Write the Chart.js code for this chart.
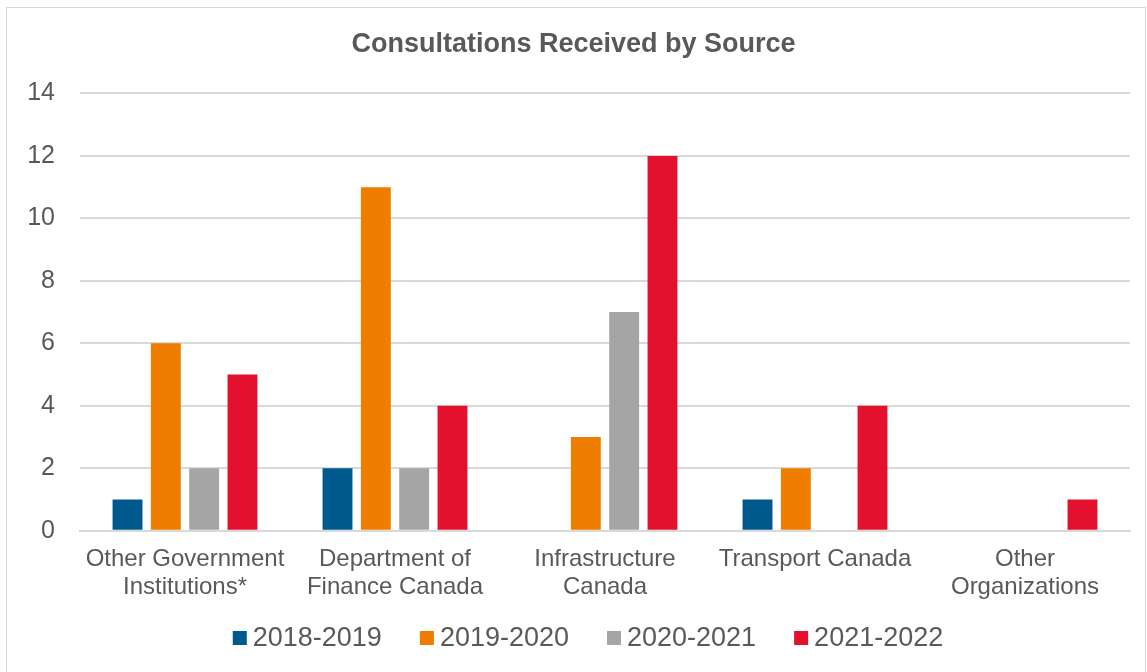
<!DOCTYPE html>
<html>
<head>
<meta charset="utf-8">
<script src="https://cdn.jsdelivr.net/npm/chart.js@4"></script>
<style>
  body { margin: 0; background: #fff; }
  .frame {
    position: absolute; left: 6px; top: 7px;
    width: 1140px; height: 670px;
    border: 1px solid #d9d9d9; box-sizing: border-box;
  }
  canvas { display: block; }
</style>
</head>
<body>
<div class="frame"><canvas id="chart" width="1138" height="668"></canvas></div>
<script>
// data
const categories = [
  ['Other Government', 'Institutions*'],
  ['Department of', 'Finance Canada'],
  ['Infrastructure', 'Canada'],
  ['Transport Canada'],
  ['Other', 'Organizations']
];
const seriesNames = ['2018-2019', '2019-2020', '2020-2021', '2021-2022'];
const values2018 = [1, 2, 0, 1, 0];
const values2019 = [6, 11, 3, 2, 0];
const values2020 = [2, 2, 7, 0, 0];
const values2021 = [5, 4, 12, 4, 1];
const yTicks = [0, 2, 4, 6, 8, 10, 12, 14];

const colors = ['#00598c', '#ef7d00', '#a5a5a5', '#e4112e'];
const allValues = [values2018, values2019, values2020, values2021];
const textColor = '#595959';
const fontFamily = '"Liberation Sans", Arial, sans-serif';

// legend drawn by hand so the box/text gap matches the original
const bottomLegend = {
  id: 'bottomLegend',
  afterDraw: function(chart) {
    const c = chart.ctx;
    const box = 14, gap = 6, spacing = 38, y = 630;
    c.save();
    c.font = '27px ' + fontFamily;
    c.textBaseline = 'middle';
    const items = chart.data.datasets.map(function(ds) {
      return { text: ds.label, color: ds.backgroundColor, w: box + gap + c.measureText(ds.label).width };
    });
    const total = items.reduce(function(s, it) { return s + it.w; }, 0) + spacing * (items.length - 1);
    let x = 581 - total / 2;
    items.forEach(function(it) {
      c.fillStyle = it.color;
      c.fillRect(x, y - box / 2, box, box);
      c.fillStyle = textColor;
      c.fillText(it.text, x + box + gap, y + 1);
      x += it.w + spacing;
    });
    c.restore();
  }
};

const ctx = document.getElementById('chart').getContext('2d');
new Chart(ctx, {
  type: 'bar',
  data: {
    labels: categories,
    datasets: seriesNames.map(function(name, i) {
      return {
        label: name,
        data: allValues[i],
        backgroundColor: colors[i],
        categoryPercentage: 0.73,
        barPercentage: 0.78
      };
    })
  },
  options: {
    responsive: false,
    animation: false,
    layout: { padding: { left: 10, right: 15, top: 0, bottom: 68 } },
    plugins: {
      title: {
        display: true,
        text: 'Consultations Received by Source',
        color: textColor,
        font: { family: fontFamily, size: 27, weight: 'bold' },
        padding: { top: 20, bottom: 33 }
      },
      legend: { display: false },
      tooltip: { enabled: false }
    },
    scales: {
      x: {
        grid: { display: false },
        border: { color: '#d9d9d9', width: 2 },
        ticks: {
          color: textColor,
          font: { family: fontFamily, size: 24, lineHeight: 1.15 },
          padding: 7,
          maxRotation: 0,
          autoSkip: false
        }
      },
      y: {
        min: 0,
        max: 14,
        afterBuildTicks: function(scale) {
          scale.ticks = yTicks.map(function(v) { return { value: v }; });
        },
        afterFit: function(scale) { scale.width = 63; },
        grid: { color: '#d9d9d9', lineWidth: 2, drawTicks: false },
        border: { display: false },
        ticks: {
          color: textColor,
          font: { family: fontFamily, size: 25 },
          padding: 25
        }
      }
    }
  },
  plugins: [bottomLegend]
});
</script>
</body>
</html>
